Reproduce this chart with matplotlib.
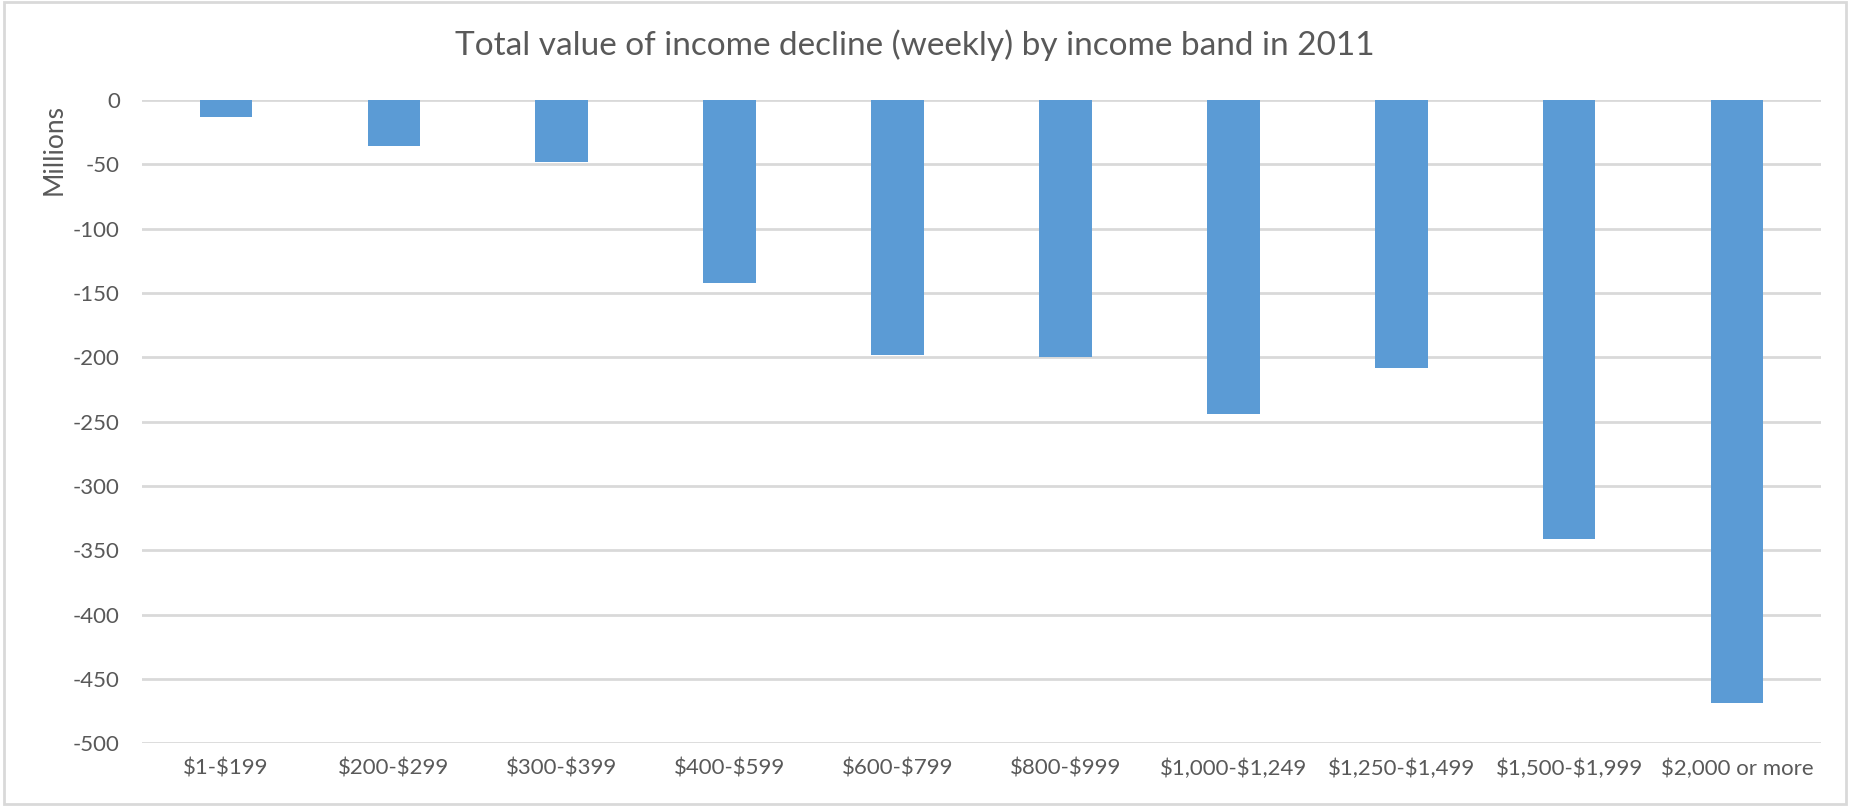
import matplotlib
matplotlib.use("Agg")
import matplotlib.pyplot as plt
import numpy as np

# Weekly income decline by band, in millions of dollars
bands = ["$1-$199", "$200-$299", "$300-$399", "$400-$599", "$600-$799",
         "$800-$999", "$1,000-$1,249", "$1,250-$1,499", "$1,500-$1,999",
         "$2,000 or more"]
decline = [-13, -36, -48, -142, -198, -199.5, -244, -208.5, -341, -468.5]
y_ticks = [0, -50, -100, -150, -200, -250, -300, -350, -400, -450, -500]

bar_color = "#5B9BD5"
grid_color = "#D9D9D9"
text_color = "#595959"

plt.rcParams['font.family'] = ['Lato', 'DejaVu Sans']
plt.rcParams['text.parse_math'] = False  # dollar signs are literal

fig = plt.figure(figsize=(18.5, 8.06), dpi=100)
ax = fig.add_axes([0.0768, 0.0778, 0.9075, 0.7981])

x = np.arange(len(bands))
ax.bar(x, decline, width=0.314, color=bar_color, zorder=3)

ax.set_xlim(-0.5, len(bands) - 0.5)
ax.set_ylim(-500, 0)
ax.set_yticks(y_ticks)
ax.set_yticklabels([str(t) for t in y_ticks])
ax.set_xticks(x)
ax.set_xticklabels(bands)

ax.yaxis.grid(True, color=grid_color, linewidth=2, zorder=0)
ax.tick_params(axis="both", length=0, labelsize=16, colors=text_color)
ax.tick_params(axis="y", pad=16)
ax.tick_params(axis="x", pad=11)
for side in ax.spines.values():
    side.set_visible(False)

fig.text(0.0292, 0.814, "Millions", rotation=90, ha="center", va="center",
         fontsize=19, color=text_color)
fig.text(0.4946, 0.944, "Total value of income decline (weekly) by income band in 2011",
         ha="center", va="center", fontsize=24, color=text_color)

# light frame round the whole chart
fig.patches.append(plt.Rectangle((0.002, 0.003), 0.996, 0.994, transform=fig.transFigure,
                                 fill=False, edgecolor=grid_color, linewidth=2))

fig.savefig("out.png", dpi=100)
